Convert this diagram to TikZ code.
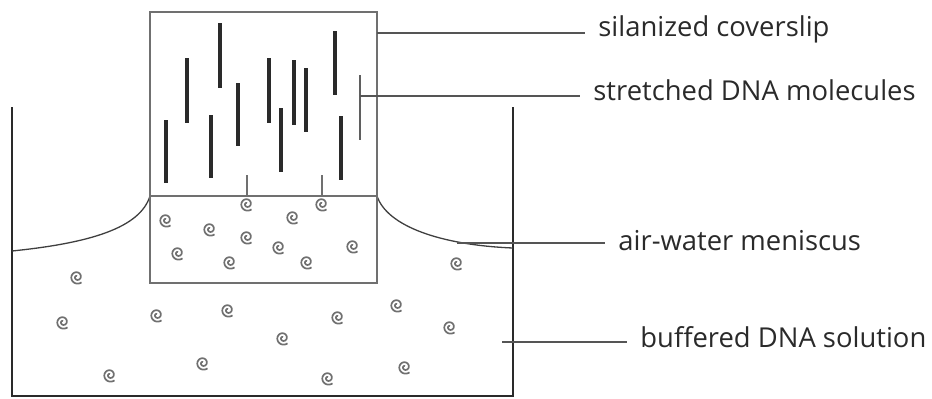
\documentclass[tikz,border=0pt]{standalone}
\usepackage{fontspec}
\setmainfont{Open Sans}
\usepackage{tikz}

\definecolor{ink}{HTML}{2A2A2A}
\definecolor{pale}{HTML}{707070}

% one coiled DNA molecule, a small spiral opening to the lower right
\tikzset{coil/.pic={
  \draw[coilline] plot[domain=90:670,samples=70,smooth,variable=\t]
    ({(1+6*(\t-90)/580)*cos(\t)},{-(1+6*(\t-90)/580)*sin(\t)});}}

\begin{document}
\begin{tikzpicture}
  [x=0.5pt,y=-0.5pt,
   every node/.style={font=\fontsize{13.7}{16}\selectfont,text=ink,inner ysep=0pt,inner xsep=6.5pt},
   wall/.style={draw=ink,line width=1.3pt},
   glass/.style={draw=pale,line width=0.8pt},
   surface/.style={draw=ink!90,line width=0.65pt},
   molecule/.style={draw=ink,line width=1.8pt},
   tether/.style={draw=pale,line width=0.7pt},
   coilline/.style={draw=pale,line width=0.85pt},
   leader/.style={draw=ink!80,line width=0.75pt}]
  \useasboundingbox (0,0) rectangle (932,398);

  % trough and the meniscus on both sides of the coverslip
  \draw[wall] (12,107) -- (12,396) -- (513,396) -- (513,107);
  \draw[surface] (150,196) .. controls (140,228) and (90,243) .. (12,251);
  \draw[surface] (377,196) .. controls (387,226) and (440,245) .. (513,248);

  % coverslip
  \draw[glass] (150,12) rectangle (377,283);
  \draw[glass] (150,196) -- (377,196);

  % stretched molecules
  \foreach \x/\ya/\yb in {166/120/183,187/58/123,220/23/88,211/115/178,
      238/83/146,269/58/123,281/108/172,294/60/125,306/68/132,
      335/31/95,341/116/180}
    \draw[molecule] (\x,\ya) -- (\x,\yb);
  \draw[molecule,draw=ink!75,line width=1.3pt] (360,75) -- (360,140);

  % molecules still tethered at the meniscus
  \foreach \x in {247,322} {
    \draw[tether] (\x,175) -- (\x,197);
    \pic at (\x,204) {coil};
  }

  % coiled molecules in the solution
  \foreach \x/\y in {166/220,210/229,293/217,247/237,178/253,279/247,
      353/246,230/262,307/262,77/277,457/263,63/322,157/315,228/310,
      338/317,397/305,450/327,283/338,110/375,203/363,328/378,405/367}
    \pic at (\x,\y) {coil};

  % labels
  \coordinate (slip) at (377,33);
  \coordinate (dna) at (360,96);
  \coordinate (men) at (457,243);
  \coordinate (sol) at (502,342);

  \node[anchor=base west] (t1) at (585,36) {silanized coverslip};
  \node[anchor=base west] (t2) at (580,100) {stretched DNA molecules};
  \node[anchor=base west] (t3) at (605,250) {air-water meniscus};
  \node[anchor=base west] (t4) at (627,347) {buffered DNA solution};

  \foreach \from/\to in {slip/t1,dna/t2,men/t3,sol/t4}
    \draw[leader] (\from) -- (\from -| \to.west);

\end{tikzpicture}
\end{document}
